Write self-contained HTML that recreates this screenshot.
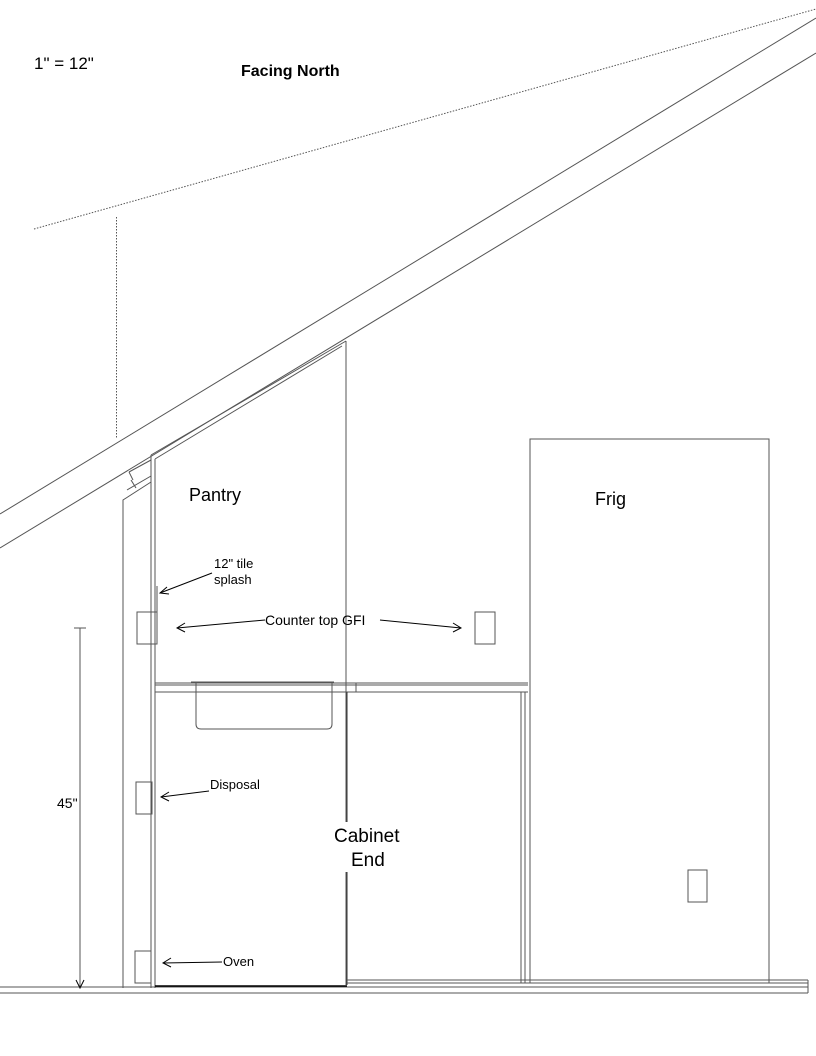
<!DOCTYPE html>
<html><head><style>
body{margin:0;background:#fff}
svg{display:block}
text{font-family:"Liberation Sans",Arial,sans-serif;fill:#000}
</style></head><body>
<svg width="816" height="1056" viewBox="0 0 816 1056" xmlns="http://www.w3.org/2000/svg">
<g stroke="#555" stroke-width="1" fill="none">
<!-- dotted lines -->
<line x1="34" y1="229" x2="816" y2="9" stroke-dasharray="1.5,1.5"/>
<line x1="116.5" y1="217" x2="116.5" y2="439" stroke-dasharray="1.5,1.5"/>
<!-- roof -->
<line x1="0" y1="514" x2="816" y2="18"/>
<line x1="0" y1="548" x2="816" y2="53"/>
<!-- pantry top -->
<line x1="151" y1="455" x2="346" y2="341"/>
<line x1="155" y1="459" x2="342" y2="346"/>
<line x1="346" y1="341" x2="346" y2="985"/>
<line x1="151" y1="455" x2="151" y2="988"/>
<line x1="155" y1="459" x2="155" y2="988"/>
<!-- left wall -->
<polyline points="123,988 123,500 151,482"/>
<line x1="129" y1="472" x2="151" y2="460"/>
<line x1="129" y1="472" x2="133" y2="480"/>
<line x1="127" y1="490" x2="151" y2="476"/>
<line x1="131" y1="480" x2="136" y2="488"/>
<!-- splash -->
<line x1="157" y1="586" x2="157" y2="644"/>
<rect x="137" y="612" width="20" height="32"/>
<rect x="475" y="612" width="20" height="32"/>
<!-- counter -->
<line x1="155" y1="683" x2="528" y2="683"/>
<line x1="155" y1="692" x2="528" y2="692"/>
<line x1="155" y1="685" x2="528" y2="685"/>
<line x1="356" y1="683" x2="356" y2="692"/>
<path d="M191,682 L334,682 M196,683 L196,724 Q196,729 201,729 L327,729 Q332,729 332,724 L332,683"/>
<!-- cabinet -->
<line x1="347" y1="692" x2="347" y2="985" stroke="#333"/>
<line x1="521" y1="692" x2="521" y2="983"/>
<line x1="525" y1="692" x2="525" y2="983"/>
<!-- frig -->
<rect x="530" y="439" width="239" height="544"/>
<rect x="688" y="870" width="19" height="32"/>
<!-- boxes -->
<rect x="136" y="782" width="16" height="32"/>
<rect x="135" y="951" width="16" height="32"/>
<!-- floor -->
<line x1="0" y1="987" x2="808" y2="987"/>
<line x1="0" y1="993" x2="808" y2="993"/>
<line x1="808" y1="980" x2="808" y2="993"/>
<line x1="347" y1="980" x2="808" y2="980"/>
<line x1="347" y1="983" x2="808" y2="983"/>
<line x1="155" y1="986" x2="347" y2="986" stroke="#000" stroke-width="1.5"/>
<!-- dimension -->
<line x1="80" y1="628" x2="80" y2="988"/>
<line x1="74" y1="628" x2="86" y2="628"/>
</g>
<g stroke="#000" stroke-width="1" fill="none">
<path d="M76,980 L80,988 L84,980"/>
<!-- arrows -->
<line x1="212" y1="573" x2="160" y2="593"/>
<path d="M167,587 L160,593 L169,594"/>
<line x1="265" y1="620" x2="177" y2="628"/>
<path d="M185,623 L177,628 L185,632"/>
<line x1="380" y1="620" x2="461" y2="628"/>
<path d="M453,623 L461,628 L453,632"/>
<line x1="209" y1="791" x2="161" y2="797"/>
<path d="M169,792 L161,797 L169,801"/>
<line x1="222" y1="962" x2="163" y2="963"/>
<path d="M171,958 L163,963 L171,967"/>
</g>
<text x="34" y="69" font-size="17">1" = 12"</text>
<text x="241" y="76" font-size="16" font-weight="bold">Facing North</text>
<text x="189" y="501" font-size="18">Pantry</text>
<text x="595" y="505" font-size="18">Frig</text>
<text x="214" y="568" font-size="13">12" tile</text>
<text x="214" y="584" font-size="13">splash</text>
<text x="265" y="625" font-size="14">Counter top GFI</text>
<text x="210" y="789" font-size="13">Disposal</text>
<text x="223" y="966" font-size="13">Oven</text>
<text x="57" y="808" font-size="14">45"</text>
<rect x="330" y="822" width="40" height="50" fill="#fff"/>
<text x="334" y="842" font-size="19">Cabinet</text>
<text x="351" y="866" font-size="19">End</text>
</svg>
</body></html>
